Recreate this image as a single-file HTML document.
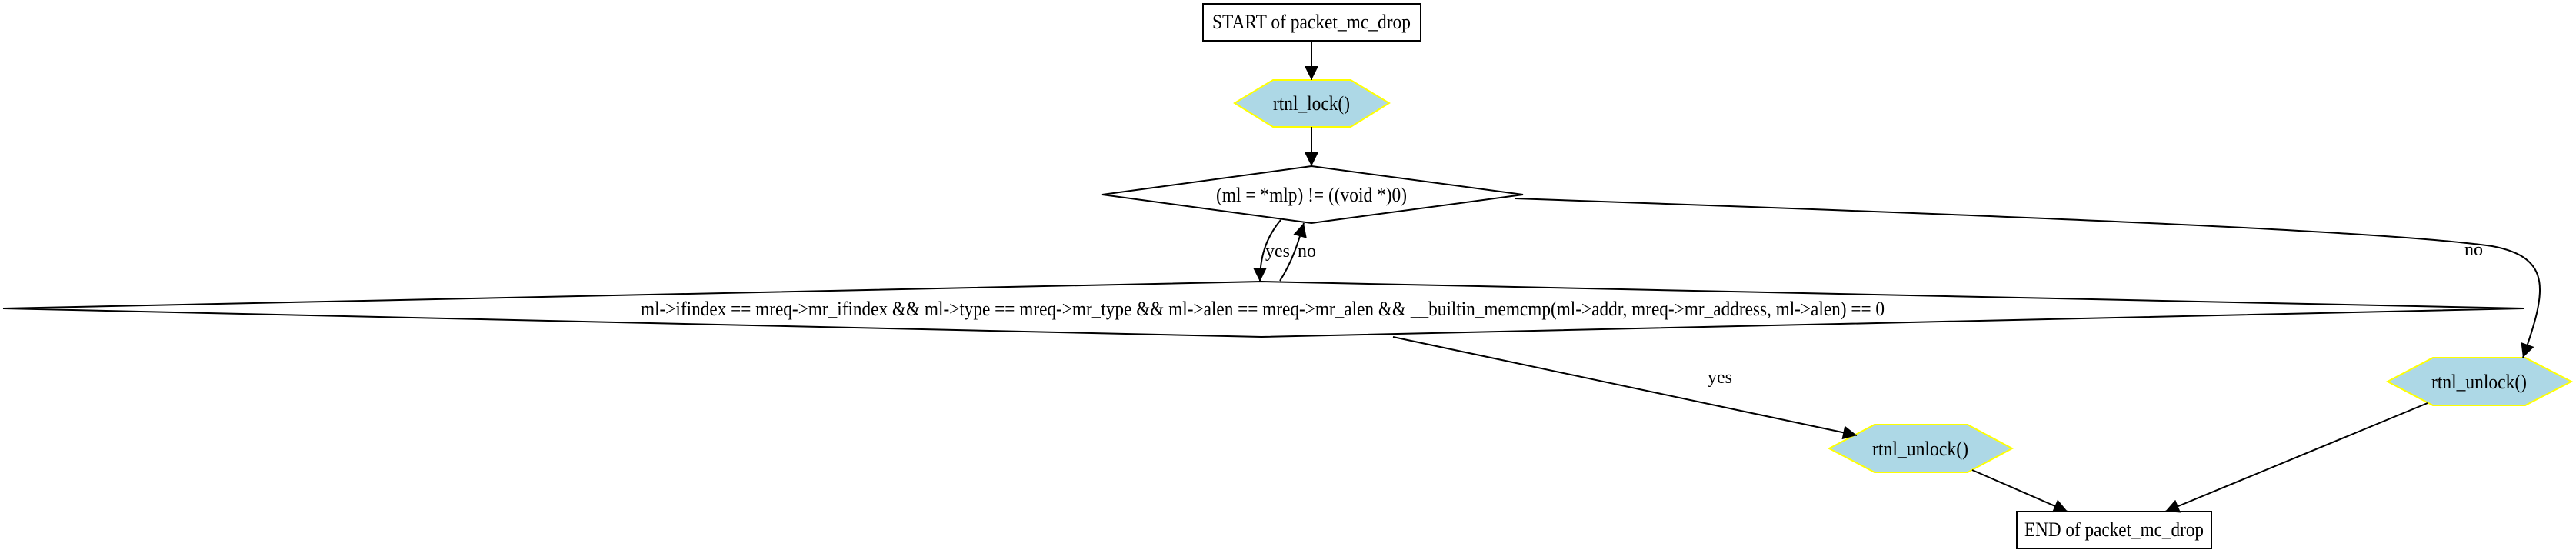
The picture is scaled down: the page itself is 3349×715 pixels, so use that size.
<!DOCTYPE html>
<html><head><meta charset="utf-8"><style>html,body{margin:0;padding:0;background:#fff;}svg{display:block}</style></head>
<body>
<svg width="3349" height="715" viewBox="0 0 3349 715" xmlns="http://www.w3.org/2000/svg" font-family="'Liberation Serif', serif" font-size="26">
<defs>
<marker id="b" viewBox="0 0 10 10" refX="10" refY="5" markerWidth="22" markerHeight="18" orient="auto" markerUnits="userSpaceOnUse"><path d="M0,0 L10,5 L0,10 z" fill="#000"/></marker></defs>
<g fill="none" stroke="#000" stroke-width="2">
<rect x="1564" y="5" width="283" height="48" fill="#fff"/>
<polygon points="1655,104 1756,104 1806,134 1756,165 1655,165 1605,134" fill="#add8e6" stroke="#ffff00"/>
<polygon points="1705,216 1980,253 1705,290 1433,253" fill="#fff"/>
<polygon points="1640,366 3281,401 1640,438 4,401" fill="#fff"/>
<polygon points="2437,552 2558,552 2616,583 2558,614 2437,614 2378,583" fill="#add8e6" stroke="#ffff00"/>
<polygon points="3163,465 3283,465 3343,496 3283,527 3163,527 3104,496" fill="#add8e6" stroke="#ffff00"/>
<rect x="2622" y="665" width="253" height="48" fill="#fff"/>
<path d="M1705,53 L1705,104" marker-end="url(#b)"/>
<path d="M1705,165 L1705,216" marker-end="url(#b)"/>
<path d="M1665,286 C1645,310 1638,335 1638,366" marker-end="url(#b)"/>
<path d="M1664,365 C1680,340 1688,315 1695,290" marker-end="url(#b)"/>
<path d="M1811,438 L2414,566" marker-end="url(#b)"/>
<path d="M1969,258 C2600,280 3100,300 3240,320 C3320,335 3310,380 3280,465" marker-end="url(#b)"/>
<path d="M2564,611 L2688,665" marker-end="url(#b)"/>
<path d="M3156,524 L2815,665" marker-end="url(#b)"/>
</g>
<g fill="#000">
<text x="1576" y="37" textLength="258" lengthAdjust="spacingAndGlyphs">START of packet_mc_drop</text>
<text x="1655" y="143" textLength="100" lengthAdjust="spacingAndGlyphs">rtnl_lock()</text>
<text x="1581" y="262" textLength="248" lengthAdjust="spacingAndGlyphs">(ml = *mlp) != ((void *)0)</text>
<text x="1645" y="334" font-size="24">yes</text>
<text x="1687" y="334" font-size="24">no</text>
<text x="833" y="410" textLength="1617" lengthAdjust="spacingAndGlyphs">ml-&gt;ifindex == mreq-&gt;mr_ifindex &amp;&amp; ml-&gt;type == mreq-&gt;mr_type &amp;&amp; ml-&gt;alen == mreq-&gt;mr_alen &amp;&amp; __builtin_memcmp(ml-&gt;addr, mreq-&gt;mr_address, ml-&gt;alen) == 0</text>
<text x="2220" y="498" font-size="24">yes</text>
<text x="3204" y="332" font-size="24">no</text>
<text x="2434" y="592" textLength="125" lengthAdjust="spacingAndGlyphs">rtnl_unlock()</text>
<text x="3161" y="505" textLength="124" lengthAdjust="spacingAndGlyphs">rtnl_unlock()</text>
<text x="2632" y="697" textLength="233" lengthAdjust="spacingAndGlyphs">END of packet_mc_drop</text>
</g>
</svg>
</body></html>
